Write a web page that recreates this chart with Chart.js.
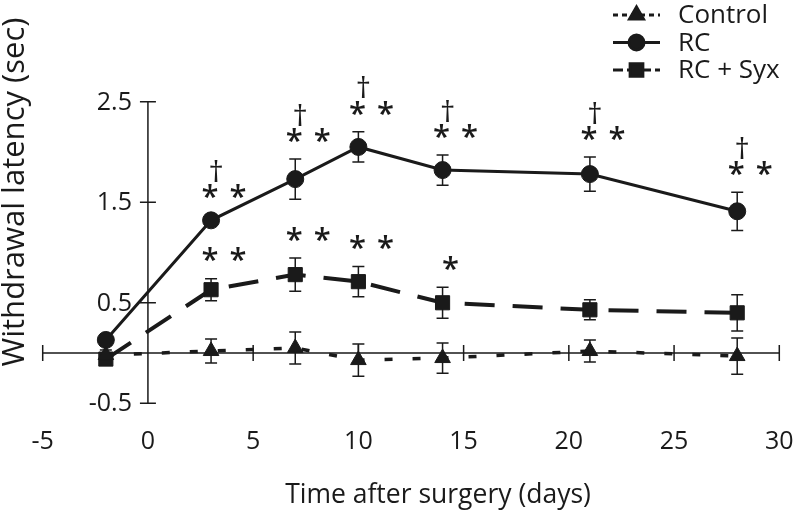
<!DOCTYPE html>
<html>
<head>
<meta charset="utf-8">
<script src="https://cdn.jsdelivr.net/npm/chart.js@4.4.0/dist/chart.umd.min.js"></script>
<style>
  body { margin: 0; background: #fff; }
</style>
</head>
<body>
<canvas id="latency-chart" width="801" height="511"></canvas>
<script>
// values (mean +/- error, sec)
const days = [-2, 3, 7, 10, 14, 21, 28];
const seriesNames = ['Control', 'RC', 'RC + Syx'];

const controlMean = [-0.02, 0.02, 0.05, -0.07, -0.05, 0.02, -0.03];
const controlErr = [0.05, 0.12, 0.16, 0.16, 0.15, 0.11, 0.18];
const rcMean = [0.13, 1.32, 1.73, 2.05, 1.82, 1.78, 1.41];
const rcErr = [0.05, 0.05, 0.2, 0.15, 0.15, 0.17, 0.19];
const syxMean = [-0.06, 0.63, 0.78, 0.71, 0.50, 0.43, 0.40];
const syxErr = [0.06, 0.11, 0.165, 0.15, 0.155, 0.1, 0.18];

// significance marks above each point
const rcMarks = ['', '**†', '**†', '**†', '**†', '**†', '**†'];
const syxMarks = ['', '**', '**', '**', '*', '', ''];

const xTickValues = [-5, 0, 5, 10, 15, 20, 25, 30];
const xTickLabels = ['-5', '0', '5', '10', '15', '20', '25', '30'];
const yTickValues = [-0.5, 0.5, 1.5, 2.5];
const yTickLabels = ['-0.5', '0.5', '1.5', '2.5'];

const xTitle = 'Time after surgery (days)';
const yTitle = 'Withdrawal latency (sec)';

const ink = '#1a1a1a';
const font = (size, weight) => (weight || '') + ' ' + size + 'px "Open Sans", sans-serif';

function points(mean) {
    return days.map((d, i) => ({ x: d, y: mean[i] }));
}

const errors = [controlErr, rcErr, syxErr];
const marks = [null, rcMarks, syxMarks];
const legendDash = [[5, 4], [], [10, 4]];

// axes crossing at the origin, error bars, titles
const paperAxes = {
    id: 'paperAxes',
    beforeDatasetsDraw(chart) {
        const ctx = chart.ctx;
        const xs = chart.scales.x;
        const ys = chart.scales.y;
        const x0 = xs.getPixelForValue(0);
        const y0 = ys.getPixelForValue(0);
        ctx.save();
        ctx.strokeStyle = ink;
        ctx.fillStyle = ink;
        ctx.lineWidth = 1.5;

        // x axis line along y = 0
        ctx.beginPath();
        ctx.moveTo(xs.getPixelForValue(xTickValues[0]), y0);
        ctx.lineTo(xs.getPixelForValue(xTickValues[xTickValues.length - 1]), y0);
        xTickValues.forEach(v => {
            const px = xs.getPixelForValue(v);
            ctx.moveTo(px, y0 - 8);
            ctx.lineTo(px, y0 + 8);
        });
        // y axis line along x = 0
        ctx.moveTo(x0, ys.getPixelForValue(yTickValues[0]));
        ctx.lineTo(x0, ys.getPixelForValue(yTickValues[yTickValues.length - 1]));
        yTickValues.forEach(v => {
            const py = ys.getPixelForValue(v);
            ctx.moveTo(x0 - 8, py);
            ctx.lineTo(x0 + 8, py);
        });
        ctx.stroke();

        ctx.font = font(25);
        ctx.textAlign = 'center';
        ctx.textBaseline = 'middle';
        xTickValues.forEach((v, i) => {
            ctx.fillText(xTickLabels[i], xs.getPixelForValue(v), 442);
        });
        ctx.textAlign = 'right';
        yTickValues.forEach((v, i) => {
            ctx.fillText(yTickLabels[i], x0 - 16, ys.getPixelForValue(v) + 1);
        });

        // axis titles
        ctx.textAlign = 'center';
        ctx.font = font(26.5);
        ctx.fillText(xTitle, 438, 495);
        ctx.save();
        ctx.translate(15, 192);
        ctx.rotate(-Math.PI / 2);
        ctx.font = font(31);
        ctx.fillText(yTitle, 0, 0);
        ctx.restore();

        // error bars
        ctx.lineWidth = 1.5;
        chart.data.datasets.forEach((ds, di) => {
            ds.data.forEach((p, i) => {
                const px = xs.getPixelForValue(p.x);
                const top = ys.getPixelForValue(p.y + errors[di][i]);
                const bot = ys.getPixelForValue(p.y - errors[di][i]);
                ctx.beginPath();
                ctx.moveTo(px, top);
                ctx.lineTo(px, bot);
                ctx.moveTo(px - 6, top);
                ctx.lineTo(px + 6, top);
                ctx.moveTo(px - 6, bot);
                ctx.lineTo(px + 6, bot);
                ctx.stroke();
            });
        });
        ctx.restore();
    },
    afterDatasetsDraw(chart) {
        const ctx = chart.ctx;
        const xs = chart.scales.x;
        const ys = chart.scales.y;
        ctx.save();
        ctx.fillStyle = ink;
        ctx.textAlign = 'center';
        ctx.textBaseline = 'middle';

        // asterisks and daggers
        chart.data.datasets.forEach((ds, di) => {
            if (!marks[di]) return;
            ds.data.forEach((p, i) => {
                const m = marks[di][i];
                if (!m) return;
                const px = xs.getPixelForValue(p.x);
                const py = ys.getPixelForValue(p.y + errors[di][i]) - 23;
                const stars = m.split('*').length - 1;
                ctx.font = font(31, 600);
                if (stars === 2) {
                    ctx.fillText('*', px - 1, py + 6);
                    ctx.fillText('*', px + 27, py + 6);
                } else {
                    ctx.fillText('*', px + 8, py + 6);
                }
                if (m.includes('†')) {
                    ctx.font = font(30);
                    ctx.fillText('†', px + 5, py - 19);
                }
            });
        });

        // legend, top right
        chart.data.datasets.forEach((ds, i) => {
            const ly = 15 + 27.5 * i;
            ctx.strokeStyle = ink;
            ctx.fillStyle = ink;
            ctx.lineWidth = Math.min(ds.borderWidth, 3);
            ctx.setLineDash(legendDash[i]);
            ctx.beginPath();
            ctx.moveTo(613, ly);
            ctx.lineTo(660, ly);
            ctx.stroke();
            ctx.setLineDash([]);
            Chart.helpers.drawPoint(ctx, {
                pointStyle: ds.pointStyle,
                radius: ds.pointRadius - 1,
                rotation: 0,
                borderWidth: 1
            }, 636.5, ly);
            ctx.font = font(26);
            ctx.textAlign = 'left';
            ctx.fillText(ds.label, 678, ly + 1);
        });
        ctx.restore();
    }
};

const latencyChart = new Chart(document.querySelector('#latency-chart'), {
    type: 'line',
    data: {
        datasets: [{
            label: seriesNames[0],
            data: points(controlMean),
            borderColor: ink,
            backgroundColor: ink,
            borderWidth: 3.5,
            borderDash: [8, 20],
            pointStyle: 'triangle',
            pointRadius: 9,
            pointBorderWidth: 1
        }, {
            label: seriesNames[1],
            data: points(rcMean),
            borderColor: ink,
            backgroundColor: ink,
            borderWidth: 3,
            pointStyle: 'circle',
            pointRadius: 8.5,
            pointBorderWidth: 1
        }, {
            label: seriesNames[2],
            data: points(syxMean),
            borderColor: ink,
            backgroundColor: ink,
            borderWidth: 4,
            borderDash: [30, 18],
            pointStyle: 'rect',
            pointRadius: 10,
            pointBorderWidth: 1
        }]
    },
    options: {
        responsive: false,
        animation: false,
        devicePixelRatio: 1,
        clip: false,
        layout: {
            padding: { left: 42.7, right: 21.7, top: 101.7, bottom: 107.7 }
        },
        scales: {
            x: { type: 'linear', min: -5, max: 30, display: false },
            y: { type: 'linear', min: -0.5, max: 2.5, display: false }
        },
        plugins: {
            legend: { display: false },
            tooltip: { enabled: false }
        }
    },
    plugins: [paperAxes]
});
</script>
</body>
</html>
